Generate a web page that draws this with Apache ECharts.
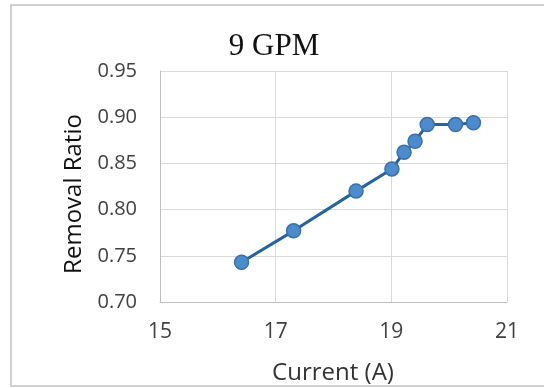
<!DOCTYPE html>
<html>
<head>
<meta charset="utf-8">
<script src="https://cdn.jsdelivr.net/npm/echarts@6/dist/echarts.min.js"></script>
<style>
  html, body { margin: 0; padding: 0; background: #fff; }
  #chart { width: 544px; height: 388px; }
</style>
</head>
<body>
<div id="chart"></div>
<script>
// Removal ratio measured against applied current at 9 GPM flow
const currentA = [16.41, 17.31, 18.39, 19.01, 19.22, 19.41, 19.62, 20.11, 20.42];
const removalRatio = [0.743, 0.777, 0.820, 0.844, 0.862, 0.874, 0.892, 0.892, 0.894];
const chartTitle = '9 GPM';
const xName = 'Current (A)';
const yName = 'Removal Ratio';

const labelFont = '"Open Sans", "Noto Sans", sans-serif';
const chart = echarts.init(document.getElementById('chart'));

chart.setOption({
  animation: false,
  backgroundColor: '#fff',
  title: {
    text: chartTitle,
    left: 269,
    top: 26,
    textAlign: 'center',
    textStyle: { fontFamily: '"Liberation Serif", serif', fontSize: 31, fontWeight: 'normal', color: '#111' }
  },
  graphic: [
    {
      type: 'rect',
      shape: { x: 11, y: 5, width: 540, height: 381 },
      style: { fill: 'none', stroke: '#d0d0d0', lineWidth: 2 },
      silent: true
    },
    {
      // horizontal axis title
      type: 'text',
      x: 333, y: 373,
      style: {
        text: xName, fontFamily: labelFont, fontSize: 24, fill: '#333',
        textAlign: 'center', textVerticalAlign: 'middle'
      },
      silent: true
    },
    {
      // vertical axis title
      type: 'text',
      x: 74, y: 194,
      rotation: Math.PI / 2,
      style: {
        text: yName, fontFamily: labelFont, fontSize: 24, fill: '#111',
        textAlign: 'center', textVerticalAlign: 'middle'
      },
      silent: true
    }
  ],
  grid: { left: 160, top: 71, width: 347, height: 231, containLabel: false },
  xAxis: {
    type: 'value',
    min: 15, max: 21, interval: 2,
    axisLine: { show: true, lineStyle: { color: '#bfbfbf', width: 1 } },
    axisTick: { show: false },
    axisLabel: { fontFamily: labelFont, fontSize: 21, color: '#404040', margin: 20 },
    splitLine: { show: true, lineStyle: { color: '#d9d9d9', width: 1 } }
  },
  yAxis: {
    type: 'value',
    min: 0.70, max: 0.95, interval: 0.05,
    axisLine: { show: true, lineStyle: { color: '#bfbfbf', width: 1 } },
    axisTick: { show: false },
    axisLabel: {
      fontFamily: labelFont, fontSize: 20, color: '#404040', margin: 23,
      formatter: v => v.toFixed(2)
    },
    splitLine: { show: true, lineStyle: { color: '#d9d9d9', width: 1 } }
  },
  series: [{
    type: 'line',
    data: currentA.map((x, i) => [x, removalRatio[i]]),
    symbol: 'circle',
    symbolSize: 14,
    lineStyle: { color: '#2563a0', width: 3 },
    itemStyle: { color: '#4d8ccc', borderColor: '#3a70a8', borderWidth: 1.5 }
  }]
});
</script>
</body>
</html>
